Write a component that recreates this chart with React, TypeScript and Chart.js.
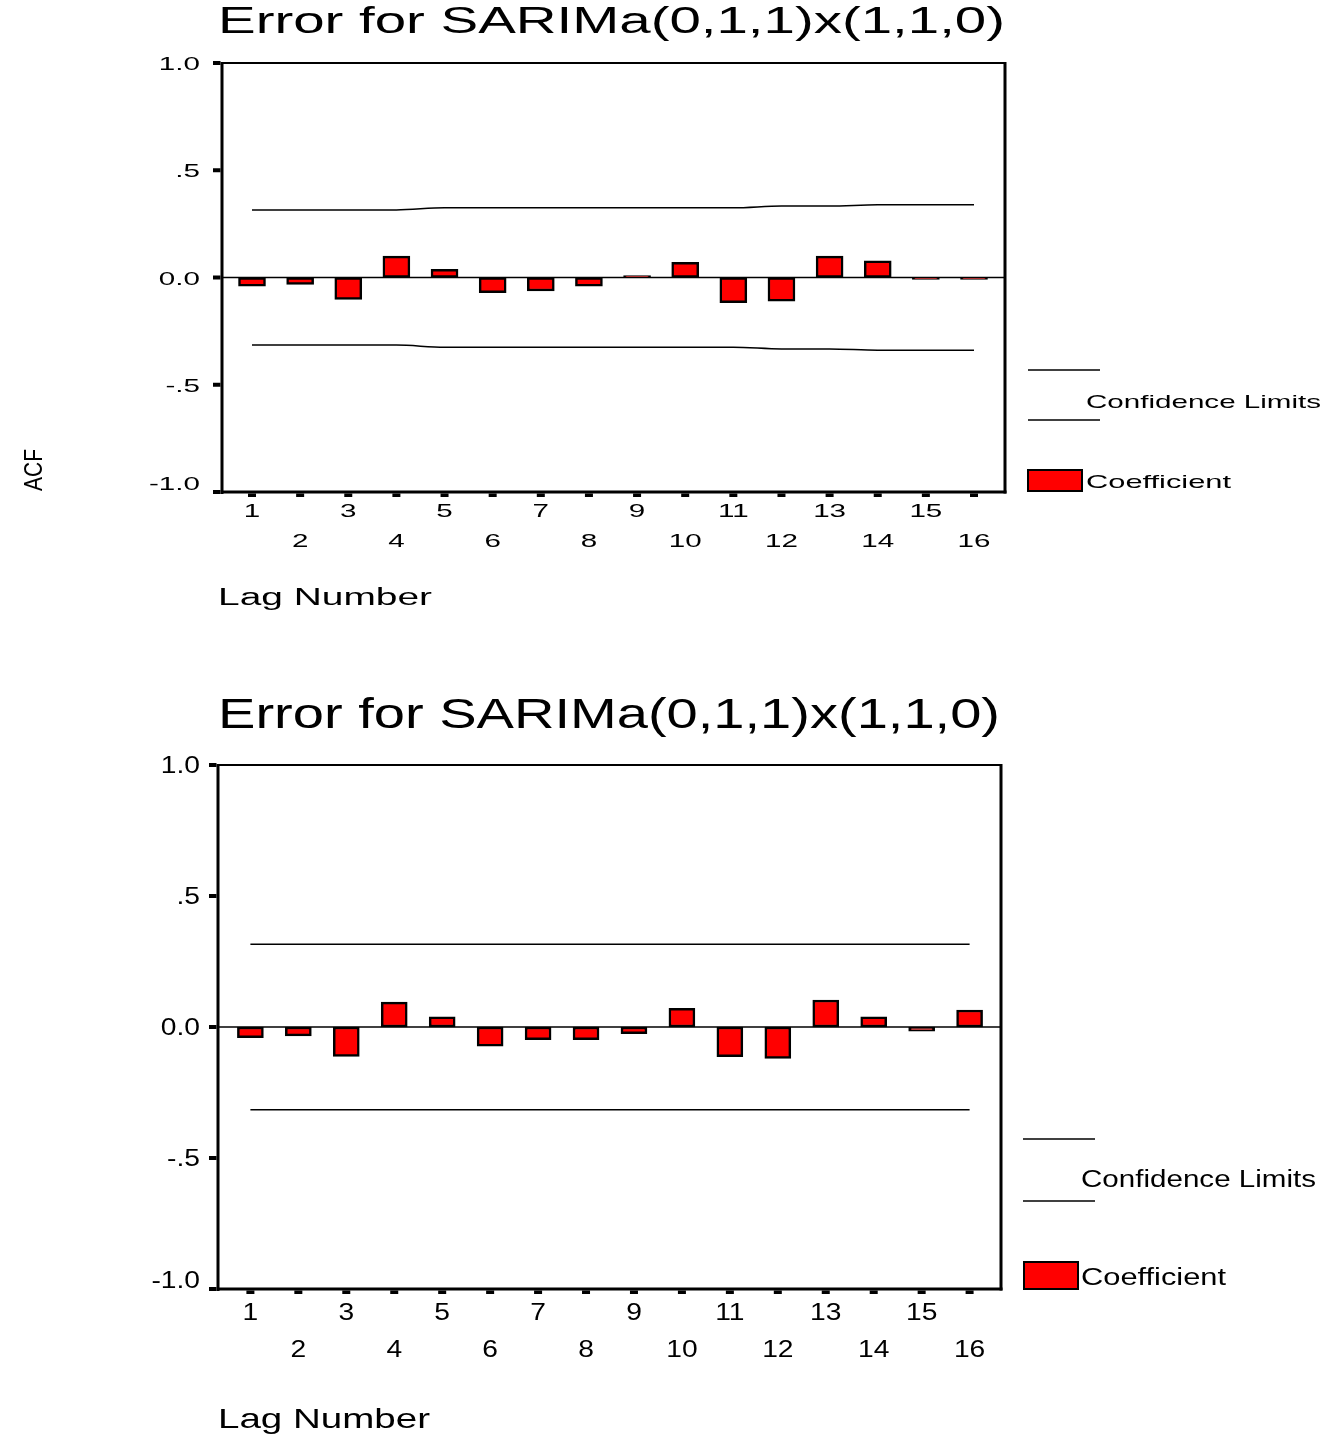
import React, { useEffect, useRef } from 'react';
import { Chart, registerables } from 'chart.js';

Chart.register(...registerables);

// ---------- data ----------
const lags = [1, 2, 3, 4, 5, 6, 7, 8, 9, 10, 11, 12, 13, 14, 15, 16];
const lagLabels = ['1', '2', '3', '4', '5', '6', '7', '8', '9', '10', '11', '12', '13', '14', '15', '16'];
const yTickValues = [1, 0.5, 0, -0.5, -1];
const yTickLabels = ['1.0', '.5', '0.0', '-.5', '-1.0'];

const titleText = 'Error for SARIMa(0,1,1)x(1,1,0)';

const topAcf = [-0.04, -0.032, -0.102, 0.1, 0.038, -0.071, -0.063, -0.04, 0.008, 0.071, -0.117, -0.11, 0.1, 0.078, -0.008, -0.003];
const topUpper = [0.315, 0.315, 0.315, 0.315, 0.325, 0.325, 0.325, 0.325, 0.325, 0.325, 0.325, 0.333, 0.333, 0.339, 0.339, 0.339];
const topLower = [-0.315, -0.315, -0.315, -0.315, -0.325, -0.325, -0.325, -0.325, -0.325, -0.325, -0.325, -0.333, -0.333, -0.339, -0.339, -0.339];

const bottomAcf = [-0.041, -0.034, -0.112, 0.095, 0.039, -0.073, -0.048, -0.048, -0.025, 0.071, -0.113, -0.12, 0.103, 0.039, -0.016, 0.065];
const bottomUpper = [0.316, 0.316, 0.316, 0.316, 0.316, 0.316, 0.316, 0.316, 0.316, 0.316, 0.316, 0.316, 0.316, 0.316, 0.316, 0.316];
const bottomLower = [-0.316, -0.316, -0.316, -0.316, -0.316, -0.316, -0.316, -0.316, -0.316, -0.316, -0.316, -0.316, -0.316, -0.316, -0.316, -0.316];

const FONT = '"Liberation Sans", Arial, sans-serif';

// ---------- text helpers ----------
function drawScaled(ctx: CanvasRenderingContext2D, text: string, x: number, y: number, size: number, sx: number, align: 'left' | 'center' | 'right') {
  ctx.save();
  ctx.font = `${size}px ${FONT}`;
  ctx.textBaseline = 'middle';
  ctx.textAlign = 'left';
  const w = ctx.measureText(text).width * sx;
  const x0 = align === 'left' ? x : align === 'center' ? x - w / 2 : x - w;
  ctx.translate(x0, y);
  ctx.scale(sx, 1);
  ctx.fillStyle = '#000';
  ctx.fillText(text, 0, 0);
  ctx.restore();
}

function drawFit(ctx: CanvasRenderingContext2D, text: string, x: number, y: number, size: number, width: number) {
  ctx.save();
  ctx.font = `${size}px ${FONT}`;
  const w0 = ctx.measureText(text).width;
  ctx.restore();
  drawScaled(ctx, text, x, y, size, width / w0, 'left');
}

type PanelCfg = {
  top: number;
  height: number;
  padding: { left: number; top: number; right: number; bottom: number };
  xMin: number;
  xMax: number;
  barThickness: number;
  acf: number[];
  upper: number[];
  lower: number[];
  smooth: boolean;
  title: { x: number; y: number; size: number; width: number };
  tickSize: number;
  tickSx: number;
  yLabelRight: number;
  xRow1: number;
  xRow2: number;
  lagTitle: { x: number; y: number; size: number; width: number };
  legend: {
    lineX1: number; lineX2: number; line1Y: number; line2Y: number;
    confX: number; confY: number; confW: number;
    boxX: number; boxY: number; boxW: number; boxH: number;
    coefX: number; coefY: number; coefW: number;
    size: number;
  };
  acfLabel?: { x: number; y: number; size: number; width: number };
};

const topCfg: PanelCfg = {
  top: 0,
  height: 630,
  padding: { left: 222, top: 63, right: 332, bottom: 138 },
  xMin: 0.3767,
  xMax: 16.644,
  barThickness: 27,
  acf: topAcf,
  upper: topUpper,
  lower: topLower,
  smooth: true,
  title: { x: 218, y: 23, size: 37, width: 787 },
  tickSize: 18.5,
  tickSx: 1.6,
  yLabelRight: 200,
  xRow1: 512,
  xRow2: 542,
  lagTitle: { x: 218, y: 599, size: 23, width: 214 },
  legend: {
    lineX1: 1028, lineX2: 1100, line1Y: 370, line2Y: 420,
    confX: 1086, confY: 403, confW: 235,
    boxX: 1027, boxY: 469, boxW: 56, boxH: 23,
    coefX: 1086, coefY: 483, coefW: 145,
    size: 18.5,
  },
  acfLabel: { x: 35, y: 470, size: 25, width: 42 },
};

const bottomCfg: PanelCfg = {
  top: 680,
  height: 755,
  padding: { left: 218, top: 85, right: 336, bottom: 146 },
  xMin: 0.3243,
  xMax: 16.655,
  barThickness: 26,
  acf: bottomAcf,
  upper: bottomUpper,
  lower: bottomLower,
  smooth: false,
  title: { x: 218, y: 716, size: 42, width: 782 },
  tickSize: 23.5,
  tickSx: 1.2,
  yLabelRight: 200,
  xRow1: 1314,
  xRow2: 1351,
  lagTitle: { x: 218, y: 1420, size: 28, width: 212 },
  legend: {
    lineX1: 1023, lineX2: 1095, line1Y: 1139, line2Y: 1201,
    confX: 1081, confY: 1181, confW: 235,
    boxX: 1023, boxY: 1261, boxW: 56, boxH: 29,
    coefX: 1081, coefY: 1279, coefW: 145,
    size: 23,
  },
};

function Panel({ cfg }: { cfg: PanelCfg }) {
  const ref = useRef<HTMLCanvasElement | null>(null);

  useEffect(() => {
    const canvas = ref.current;
    if (!canvas) return;

    const decor = {
      id: 'acfDecor',
      beforeDatasetsDraw(chart: any) {
        const ctx: CanvasRenderingContext2D = chart.ctx;
        const ca = chart.chartArea;
        const y0 = chart.scales.y.getPixelForValue(0);
        ctx.save();
        ctx.strokeStyle = '#000';
        ctx.lineWidth = 1.5;
        ctx.beginPath();
        ctx.moveTo(ca.left, y0);
        ctx.lineTo(ca.right, y0);
        ctx.stroke();
        ctx.restore();
      },
      afterDatasetsDraw(chart: any) {
        const ctx: CanvasRenderingContext2D = chart.ctx;
        const ca = chart.chartArea;
        const xs = chart.scales.x;
        const ys = chart.scales.y;
        const T = cfg.top;
        ctx.save();
        ctx.strokeStyle = '#000';
        ctx.fillStyle = '#000';
        ctx.lineCap = 'butt';
        // frame
        ctx.lineWidth = 2;
        ctx.beginPath();
        ctx.moveTo(ca.left, ca.top);
        ctx.lineTo(ca.right, ca.top);
        ctx.stroke();
        ctx.lineWidth = 3;
        ctx.beginPath();
        ctx.moveTo(ca.left, ca.top - 1);
        ctx.lineTo(ca.left, ca.bottom + 2);
        ctx.stroke();
        ctx.beginPath();
        ctx.moveTo(ca.right, ca.top - 1);
        ctx.lineTo(ca.right, ca.bottom + 1.5);
        ctx.stroke();
        ctx.beginPath();
        ctx.moveTo(ca.left, ca.bottom);
        ctx.lineTo(ca.right + 1.5, ca.bottom);
        ctx.stroke();
        // y ticks
        yTickValues.forEach((v, i) => {
          const y = ys.getPixelForValue(v);
          ctx.fillRect(ca.left - 9, y - 2, 7.5, 4);
          let ly = y + 2;
          if (v === -1) ly = y - 7;
          drawScaled(ctx, yTickLabels[i], cfg.yLabelRight, ly, cfg.tickSize, cfg.tickSx, 'right');
        });
        // x ticks
        lags.forEach((l, i) => {
          const x = xs.getPixelForValue(l);
          ctx.fillRect(x - 4, ca.bottom + 1.5, 8, 3.5);
          const row = i % 2 === 0 ? cfg.xRow1 : cfg.xRow2;
          drawScaled(ctx, lagLabels[i], x, row - T, cfg.tickSize, cfg.tickSx, 'center');
        });
        // title
        drawFit(ctx, titleText, cfg.title.x, cfg.title.y - T, cfg.title.size, cfg.title.width);
        // axis title
        drawFit(ctx, 'Lag Number', cfg.lagTitle.x, cfg.lagTitle.y - T, cfg.lagTitle.size, cfg.lagTitle.width);
        // legend
        const lg = cfg.legend;
        ctx.lineWidth = 1.5;
        [lg.line1Y, lg.line2Y].forEach((ly) => {
          ctx.beginPath();
          ctx.moveTo(lg.lineX1, ly - T);
          ctx.lineTo(lg.lineX2, ly - T);
          ctx.stroke();
        });
        drawFit(ctx, 'Confidence Limits', lg.confX, lg.confY - T, lg.size, lg.confW);
        ctx.fillStyle = '#ff0000';
        ctx.fillRect(lg.boxX, lg.boxY - T, lg.boxW, lg.boxH);
        ctx.lineWidth = 2;
        ctx.strokeRect(lg.boxX + 1, lg.boxY - T + 1, lg.boxW - 2, lg.boxH - 2);
        ctx.fillStyle = '#000';
        drawFit(ctx, 'Coefficient', lg.coefX, lg.coefY - T, lg.size, lg.coefW);
        // ACF label
        if (cfg.acfLabel) {
          const a = cfg.acfLabel;
          ctx.save();
          ctx.font = `${a.size}px ${FONT}`;
          const w0 = ctx.measureText('ACF').width;
          ctx.restore();
          ctx.save();
          ctx.translate(a.x, a.y - T);
          ctx.rotate(-Math.PI / 2);
          drawScaled(ctx, 'ACF', 0, 0, a.size, a.width / w0, 'center');
          ctx.restore();
        }
        ctx.restore();
      },
    };

    const chart = new Chart(canvas, {
      type: 'bar',
      data: {
        datasets: [
          {
            type: 'bar',
            label: 'Coefficient',
            data: lags.map((l, i) => ({ x: l, y: cfg.acf[i] })),
            backgroundColor: '#ff0000',
            borderColor: '#000000',
            borderWidth: 2.5,
            borderSkipped: false,
            barThickness: cfg.barThickness,
            minBarLength: 2,
            order: 2,
          } as any,
          {
            type: 'line',
            label: 'Upper limit',
            data: lags.map((l, i) => ({ x: l, y: cfg.upper[i] })),
            borderColor: '#000000',
            borderWidth: 1.5,
            pointRadius: 0,
            fill: false,
            cubicInterpolationMode: cfg.smooth ? 'monotone' : 'default',
            order: 1,
          } as any,
          {
            type: 'line',
            label: 'Lower limit',
            data: lags.map((l, i) => ({ x: l, y: cfg.lower[i] })),
            borderColor: '#000000',
            borderWidth: 1.5,
            pointRadius: 0,
            fill: false,
            cubicInterpolationMode: cfg.smooth ? 'monotone' : 'default',
            order: 1,
          } as any,
        ],
      },
      options: {
        responsive: false,
        animation: false,
        devicePixelRatio: 1,
        events: [],
        layout: { padding: cfg.padding },
        scales: {
          x: { type: 'linear', min: cfg.xMin, max: cfg.xMax, offset: false, display: false },
          y: { type: 'linear', min: -1, max: 1, display: false },
        },
        plugins: {
          legend: { display: false },
          tooltip: { enabled: false },
          title: { display: false },
        },
      } as any,
      plugins: [decor],
    });
    return () => chart.destroy();
  }, [cfg]);

  return (
    <canvas
      ref={ref}
      width={1337}
      height={cfg.height}
      style={{ position: 'absolute', left: 0, top: cfg.top, width: 1337, height: cfg.height, display: 'block' }}
    />
  );
}

export default function App() {
  return (
    <div style={{ position: 'absolute', left: 0, top: 0, width: 1337, height: 1435, background: '#fff', overflow: 'hidden' }}>
      <Panel cfg={topCfg} />
      <Panel cfg={bottomCfg} />
    </div>
  );
}
